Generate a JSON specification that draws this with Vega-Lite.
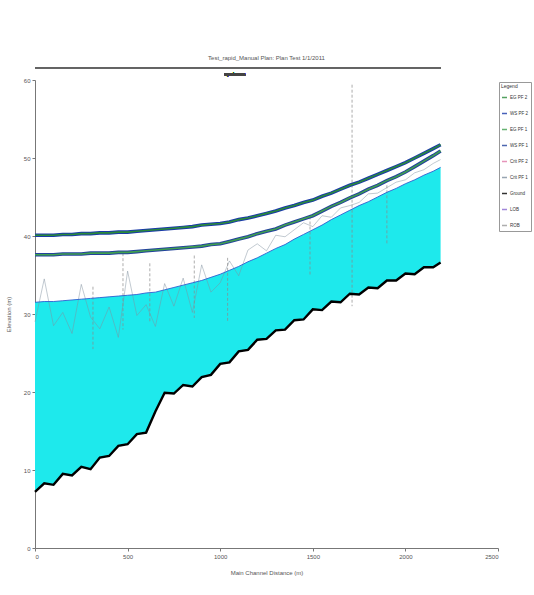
{
  "$schema": "https://vega.github.io/schema/vega-lite/v6.json",
  "autosize": {"type": "none"},
  "width": 463,
  "height": 468,
  "padding": {"left": 35, "top": 80, "right": 36, "bottom": 47},
  "background": "#ffffff",
  "config": {
    "view": {"stroke": null},
    "font": "Liberation Sans",
    "axis": {"labelFont": "Liberation Sans", "titleFont": "Liberation Sans", "labelFontSize": 6, "titleFontSize": 6, "labelColor": "#555", "titleColor": "#555", "domainColor": "#777", "tickColor": "#777", "grid": false, "titleFontWeight": "normal"}
  },
  "title": {"text": "Test_rapid_Manual      Plan: Plan Test      1/1/2011", "fontSize": 6, "fontWeight": "normal", "color": "#555", "offset": 7, "anchor": "middle"},
  "datasets": {
    "profile": [
      {"dist": 0, "ground": 7.2, "ws": 31.5, "crit": 29.0, "upper": 40.1, "lower": 37.6},
      {"dist": 50, "ground": 8.3, "ws": 31.6, "crit": 34.5, "upper": 40.1, "lower": 37.6},
      {"dist": 100, "ground": 8.1, "ws": 31.6, "crit": 28.5, "upper": 40.1, "lower": 37.6},
      {"dist": 150, "ground": 9.5, "ws": 31.7, "crit": 30.2, "upper": 40.2, "lower": 37.7},
      {"dist": 200, "ground": 9.3, "ws": 31.8, "crit": 27.5, "upper": 40.2, "lower": 37.7},
      {"dist": 250, "ground": 10.4, "ws": 31.9, "crit": 33.8, "upper": 40.3, "lower": 37.7},
      {"dist": 300, "ground": 10.1, "ws": 32.0, "crit": 29.6, "upper": 40.3, "lower": 37.8},
      {"dist": 350, "ground": 11.6, "ws": 32.1, "crit": 28.1, "upper": 40.4, "lower": 37.8},
      {"dist": 400, "ground": 11.8, "ws": 32.2, "crit": 30.9, "upper": 40.4, "lower": 37.8},
      {"dist": 450, "ground": 13.1, "ws": 32.3, "crit": 27.0, "upper": 40.5, "lower": 37.9},
      {"dist": 500, "ground": 13.3, "ws": 32.4, "crit": 35.5, "upper": 40.5, "lower": 37.9},
      {"dist": 550, "ground": 14.6, "ws": 32.5, "crit": 29.8, "upper": 40.6, "lower": 38.0},
      {"dist": 600, "ground": 14.8, "ws": 32.7, "crit": 31.2, "upper": 40.7, "lower": 38.1},
      {"dist": 650, "ground": 17.5, "ws": 32.8, "crit": 28.4, "upper": 40.8, "lower": 38.2},
      {"dist": 700, "ground": 19.9, "ws": 33.1, "crit": 33.9, "upper": 40.9, "lower": 38.3},
      {"dist": 750, "ground": 19.8, "ws": 33.4, "crit": 31.0, "upper": 41.0, "lower": 38.4},
      {"dist": 800, "ground": 20.9, "ws": 33.7, "crit": 34.6, "upper": 41.1, "lower": 38.5},
      {"dist": 850, "ground": 20.7, "ws": 34.0, "crit": 30.2, "upper": 41.2, "lower": 38.6},
      {"dist": 900, "ground": 21.9, "ws": 34.3, "crit": 36.3, "upper": 41.4, "lower": 38.7},
      {"dist": 950, "ground": 22.2, "ws": 34.7, "crit": 32.8, "upper": 41.5, "lower": 38.9},
      {"dist": 1000, "ground": 23.6, "ws": 35.1, "crit": 34.0, "upper": 41.6, "lower": 39.0},
      {"dist": 1050, "ground": 23.8, "ws": 35.6, "crit": 36.8, "upper": 41.8, "lower": 39.3},
      {"dist": 1100, "ground": 25.2, "ws": 36.1, "crit": 34.9, "upper": 42.1, "lower": 39.6},
      {"dist": 1150, "ground": 25.4, "ws": 36.7, "crit": 38.2, "upper": 42.3, "lower": 39.9},
      {"dist": 1200, "ground": 26.7, "ws": 37.2, "crit": 39.0, "upper": 42.6, "lower": 40.3},
      {"dist": 1250, "ground": 26.8, "ws": 37.8, "crit": 38.1, "upper": 42.9, "lower": 40.6},
      {"dist": 1300, "ground": 27.9, "ws": 38.4, "crit": 40.1, "upper": 43.2, "lower": 40.9},
      {"dist": 1350, "ground": 28.0, "ws": 38.9, "crit": 39.9, "upper": 43.6, "lower": 41.4},
      {"dist": 1400, "ground": 29.2, "ws": 39.6, "crit": 40.8, "upper": 43.9, "lower": 41.8},
      {"dist": 1450, "ground": 29.3, "ws": 40.2, "crit": 41.7, "upper": 44.3, "lower": 42.2},
      {"dist": 1500, "ground": 30.6, "ws": 40.8, "crit": 41.2, "upper": 44.6, "lower": 42.6},
      {"dist": 1550, "ground": 30.5, "ws": 41.4, "crit": 42.6, "upper": 45.1, "lower": 43.2},
      {"dist": 1600, "ground": 31.6, "ws": 42.1, "crit": 42.4, "upper": 45.5, "lower": 43.8},
      {"dist": 1650, "ground": 31.5, "ws": 42.7, "crit": 43.6, "upper": 46.0, "lower": 44.3},
      {"dist": 1700, "ground": 32.6, "ws": 43.3, "crit": 43.9, "upper": 46.5, "lower": 44.9},
      {"dist": 1750, "ground": 32.5, "ws": 43.9, "crit": 44.3, "upper": 46.9, "lower": 45.4},
      {"dist": 1800, "ground": 33.4, "ws": 44.4, "crit": 45.4, "upper": 47.4, "lower": 46.0},
      {"dist": 1850, "ground": 33.3, "ws": 45.0, "crit": 45.5, "upper": 47.9, "lower": 46.5},
      {"dist": 1900, "ground": 34.3, "ws": 45.6, "crit": 46.2, "upper": 48.4, "lower": 47.1},
      {"dist": 1950, "ground": 34.3, "ws": 46.1, "crit": 46.9, "upper": 48.9, "lower": 47.6},
      {"dist": 2000, "ground": 35.2, "ws": 46.7, "crit": 47.2, "upper": 49.4, "lower": 48.2},
      {"dist": 2050, "ground": 35.1, "ws": 47.2, "crit": 48.1, "upper": 50.0, "lower": 48.9},
      {"dist": 2100, "ground": 36.0, "ws": 47.8, "crit": 48.5, "upper": 50.6, "lower": 49.6},
      {"dist": 2150, "ground": 36.0, "ws": 48.3, "crit": 49.3, "upper": 51.2, "lower": 50.3},
      {"dist": 2190, "ground": 36.6, "ws": 48.8, "crit": 49.8, "upper": 51.7, "lower": 50.9}
    ],
    "structures": [
      {"dist": 1712, "top": 59.4, "bot": 31.0},
      {"dist": 475, "top": 37.8, "bot": 28.0},
      {"dist": 313, "top": 33.5, "bot": 25.5},
      {"dist": 620, "top": 36.5, "bot": 29.0},
      {"dist": 860, "top": 37.5, "bot": 29.5},
      {"dist": 1040, "top": 37.2, "bot": 29.0},
      {"dist": 1485, "top": 42.5, "bot": 35.0},
      {"dist": 1900, "top": 46.5, "bot": 39.0}
    ]
  },
  "data": {"name": "profile"},
  "encoding": {
    "x": {"field": "dist", "type": "quantitative", "scale": {"domain": [0, 2500], "nice": false}, "axis": {"values": [0, 500, 1000, 1500, 2000, 2500], "format": "d", "title": "Main Channel Distance (m)", "titlePadding": 10, "tickSize": 3, "labelPadding": 2}}
  },
  "layer": [
    {
      "mark": {"type": "area", "color": "#1ee9ec", "opacity": 1},
      "encoding": {
        "y": {"field": "ws", "type": "quantitative", "scale": {"domain": [0, 60], "nice": false}, "axis": {"values": [0, 10, 20, 30, 40, 50, 60], "title": "Elevation (m)", "titlePadding": 12, "tickSize": 3, "labelPadding": 2}},
        "y2": {"field": "ground"}
      }
    },
    {
      "mark": {"type": "line", "strokeWidth": 0.6, "opacity": 0.8},
      "encoding": {
        "y": {"field": "crit", "type": "quantitative"},
        "color": {"datum": "Crit PF 1"}
      }
    },
    {
      "data": {"name": "structures"},
      "mark": {"type": "rule", "color": "#8a8a8a", "strokeWidth": 0.7, "strokeDash": [3, 2]},
      "encoding": {
        "x": {"field": "dist", "type": "quantitative"},
        "y": {"field": "top", "type": "quantitative"},
        "y2": {"field": "bot"}
      }
    },
    {
      "mark": {"type": "line", "strokeWidth": 0.9, "color": "#2f5fd0"},
      "encoding": {"y": {"field": "ws", "type": "quantitative"}}
    },
    {
      "mark": {"type": "line", "strokeWidth": 3.6},
      "encoding": {"y": {"field": "lower", "type": "quantitative"}, "color": {"datum": "WS PF 1"}}
    },
    {
      "mark": {"type": "line", "strokeWidth": 1.6},
      "encoding": {"y": {"field": "lower", "type": "quantitative"}, "color": {"datum": "EG PF 1"}}
    },
    {
      "mark": {"type": "line", "strokeWidth": 3.6},
      "encoding": {"y": {"field": "upper", "type": "quantitative"}, "color": {"datum": "WS PF 2"}}
    },
    {
      "mark": {"type": "line", "strokeWidth": 1.6},
      "encoding": {"y": {"field": "upper", "type": "quantitative"}, "color": {"datum": "EG PF 2"}}
    },
    {
      "mark": {"type": "line", "strokeWidth": 2.4},
      "encoding": {
        "y": {"field": "ground", "type": "quantitative"},
        "color": {
          "datum": "Ground",
          "scale": {
            "domain": ["EG PF 2", "WS PF 2", "EG PF 1", "WS PF 1", "Crit PF 2", "Crit PF 1", "Ground", "LOB", "ROB"],
            "range": ["#2a8a3a", "#1a3aa8", "#3f9f4f", "#23429c", "#e07aa8", "#7f8f9f", "#000000", "#8a6ad0", "#9a9a9a"]
          },
          "legend": {
            "title": "Legend",
            "orient": "none",
            "legendX": 464,
            "legendY": 2,
            "symbolType": "stroke",
            "symbolSize": 25,
            "symbolStrokeWidth": 1.5,
            "labelFontSize": 4.5,
            "titleFontSize": 5,
            "titleFontWeight": "normal",
            "labelColor": "#333",
            "titleColor": "#333",
            "labelOffset": 2,
            "rowPadding": 9,
            "padding": 2,
            "strokeColor": "#999",
            "fillColor": "#ffffff",
            "labelLimit": 40
          }
        }
      }
    },
    {
      "mark": {"type": "rule", "color": "#666", "strokeWidth": 0.8, "clip": false},
      "encoding": {"x": {"datum": 0}, "x2": {"datum": 2190}, "y": {"datum": 61.5}}
    },
    {
      "mark": {"type": "text", "fontSize": 5, "color": "#444", "clip": false, "dy": 6},
      "encoding": {"x": {"datum": 1080}, "y": {"datum": 61.5}, "text": {"value": "upstream"}}
    }
  ]
}
